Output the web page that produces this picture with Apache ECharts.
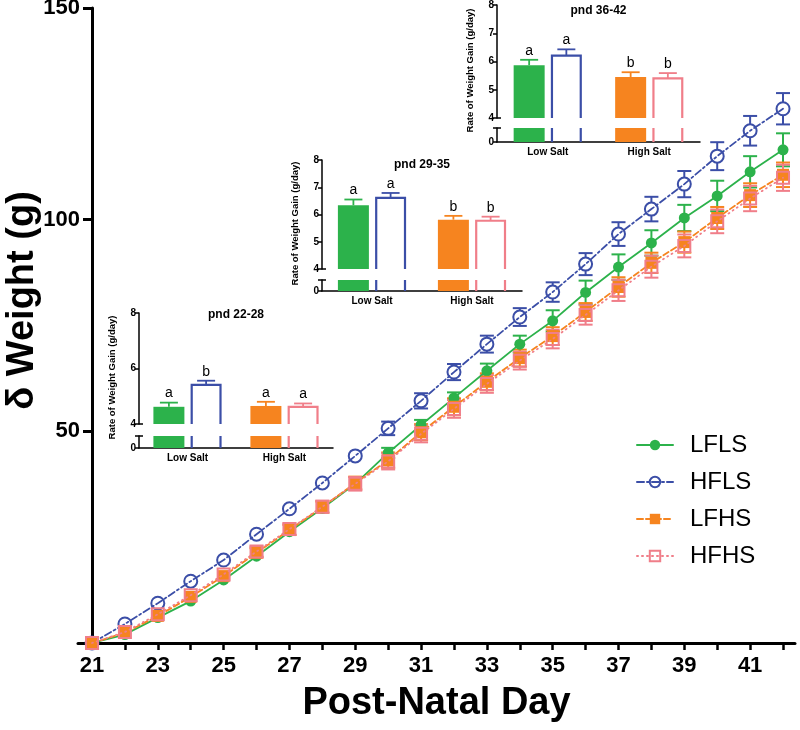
<!DOCTYPE html>
<html><head><meta charset="utf-8">
<script src="https://cdn.jsdelivr.net/npm/echarts@6/dist/echarts.min.js"></script>
<style>html,body{margin:0;padding:0;background:#fff}#c{width:800px;height:730px}</style>
</head><body><div id="c"></div>
<script>
// ---------- data ----------
const days = [21,22,23,24,25,26,27,28,29,30,31,32,33,34,35,36,37,38,39,40,41,42];
const xLabelDays = [21,23,25,27,29,31,33,35,37,39,41];
const yTickValues = [50,100,150];
const seriesNames = ['LFLS','HFLS','LFHS','HFHS'];

const LFLS = [0,2.0,6.0,9.9,14.9,20.5,26.3,31.8,37.6,44.9,51.5,57.9,64.3,70.6,76.1,82.8,88.8,94.5,100.4,105.6,111.3,116.5];
const HFLS = [0,4.5,9.4,14.6,19.6,25.7,31.7,37.8,44.2,50.7,57.2,64.0,70.6,77.0,82.9,89.5,96.6,102.5,108.4,115.0,121.0,126.2];
const LFHS = [0,2.4,6.4,10.9,15.8,21.3,26.7,32.1,37.8,43.2,49.8,55.8,61.7,67.3,72.5,78.2,84.1,89.8,94.7,100.4,105.8,110.6];
const HFHS = [0,2.6,6.8,11.3,16.2,21.6,26.9,32.2,37.6,42.9,49.4,55.3,61.2,66.7,71.8,77.5,83.3,88.9,93.8,99.6,105.0,109.9];

const LFLS_err = [0,0.3,0.4,0.5,0.6,0.7,0.8,0.8,0.9,1.2,1.2,1.3,1.7,2.0,2.5,2.8,3.0,3.0,3.1,3.6,3.7,3.9];
const HFLS_err = [0,0.4,0.5,0.6,0.7,0.8,0.9,1.0,1.2,1.6,1.8,1.9,2.0,2.1,2.3,2.6,2.8,2.9,3.1,3.3,3.5,3.7];
const LFHS_err = [0,0.4,0.6,0.8,1.0,1.1,1.2,1.3,1.5,1.8,1.9,2.0,2.0,2.0,2.1,2.1,2.3,2.4,2.5,2.6,2.8,2.9];
const HFHS_err = [0,0.4,0.6,0.8,1.0,1.2,1.3,1.4,1.6,1.9,2.0,2.1,2.1,2.1,2.2,2.3,2.5,2.6,2.7,2.8,3.0,3.1];

// insets: categories Low Salt / High Salt; LF bars (filled) and HF bars (open)
const insetCategories = ['Low Salt','High Salt'];
const insetTitles = ['pnd 22-28','pnd 29-35','pnd 36-42'];
const insetYTitle = 'Rate of Weight Gain (g/day)';

const pnd22_LF = [4.62, 4.65];   const pnd22_LF_err = [0.15, 0.15]; const pnd22_LF_sig = ['a','a'];
const pnd22_HF = [5.41, 4.62];   const pnd22_HF_err = [0.15, 0.12]; const pnd22_HF_sig = ['b','a'];
const pnd29_LF = [6.34, 5.81];   const pnd29_LF_err = [0.21, 0.14]; const pnd29_LF_sig = ['a','b'];
const pnd29_HF = [6.61, 5.77];   const pnd29_HF_err = [0.18, 0.15]; const pnd29_HF_sig = ['a','b'];
const pnd36_LF = [5.87, 5.45];   const pnd36_LF_err = [0.19, 0.17]; const pnd36_LF_sig = ['a','b'];
const pnd36_HF = [6.21, 5.40];   const pnd36_HF_err = [0.22, 0.19]; const pnd36_HF_sig = ['a','b'];
const insetYTicksA = [4,6,8];
const insetYTicksB = [4,5,6,7,8];

// ---------- styles ----------
const FONT = '"Liberation Sans", Arial, Helvetica, sans-serif';
const C_GREEN = '#2cb24b', C_BLUE = '#3b4ea7', C_ORANGE = '#f6841f', C_PINK = '#f07e89';

const chart = echarts.init(document.getElementById('c'), null, {renderer:'canvas'});

const grids = [], xAxes = [], yAxes = [], series = [], graphics = [];

// main grid
grids.push({left:78, top:8, right:5, bottom:87, outerBoundsMode:'none', containLabel:false});
xAxes.push({
  gridIndex:0, type:'value', min:20.574, max:42.364,
  axisLine:{lineStyle:{color:'#000', width:3}},
  axisTick:{customValues:days, length:7, lineStyle:{color:'#000', width:2.5}},
  axisLabel:{customValues:xLabelDays, fontFamily:FONT, fontWeight:'bold', fontSize:22, color:'#000', margin:12},
  splitLine:{show:false},
  name:'Post-Natal Day', nameLocation:'middle', nameGap:42,
  nameTextStyle:{fontFamily:FONT, fontWeight:'bold', fontSize:38, color:'#000'}
});
yAxes.push({
  gridIndex:0, type:'value', min:0, max:150, offset:-14, position:'left',
  axisLine:{show:true, lineStyle:{color:'#000', width:3}},
  axisTick:{show:true, customValues:yTickValues, length:9, lineStyle:{color:'#000', width:3}},
  axisLabel:{customValues:yTickValues, fontFamily:FONT, fontWeight:'bold', fontSize:22, color:'#000', margin:12},
  splitLine:{show:false},
  name:'δ Weight (g)', nameLocation:'middle', nameGap:50, nameRotate:90, nameMoveOverlap:false,
  nameTextStyle:{fontFamily:FONT, fontWeight:'bold', fontSize:38, color:'#000', padding:[0,0,0,50]}
});

function errSeries(name, vals, errs, color, r) {
  return {
    type:'custom', name:name+' SEM', xAxisIndex:0, yAxisIndex:0, silent:true, z:3,
    data: days.map((d,i)=>[d, vals[i], errs[i]]),
    encode:{x:0, y:1},
    renderItem(params, api){
      const x=api.value(0), v=api.value(1), e=api.value(2);
      const c=api.coord([x,v]), hi=api.coord([x,v+e]), lo=api.coord([x,v-e]);
      const w=7, st={stroke:color, lineWidth:2};
      const ch=[];
      if (c[1]-hi[1] > r-1) {
        ch.push({type:'line', shape:{x1:c[0],y1:hi[1],x2:c[0],y2:c[1]-r}, style:st});
        ch.push({type:'line', shape:{x1:c[0]-w,y1:hi[1],x2:c[0]+w,y2:hi[1]}, style:st});
        ch.push({type:'line', shape:{x1:c[0],y1:c[1]+r,x2:c[0],y2:lo[1]}, style:st});
        ch.push({type:'line', shape:{x1:c[0]-w,y1:lo[1],x2:c[0]+w,y2:lo[1]}, style:st});
      }
      return {type:'group', children:ch};
    }
  };
}
function lineSeries(name, vals, color, lineType, symbol, size, filled, z) {
  return {
    type:'line', name, xAxisIndex:0, yAxisIndex:0, z,
    data: days.map((d,i)=>[d, vals[i]]),
    symbol, symbolSize:size, showSymbol:true,
    lineStyle:{color, width:1.8, type:lineType, cap:'round'},
    itemStyle:{color: filled ? color : 'rgba(255,255,255,0)', borderColor:color, borderWidth: filled ? 0 : 2},
    emphasis:{disabled:true}
  };
}
series.push(errSeries('LFLS', LFLS, LFLS_err, C_GREEN, 5));
series.push(errSeries('HFLS', HFLS, HFLS_err, C_BLUE, 6.5));
series.push(errSeries('LFHS', LFHS, LFHS_err, C_ORANGE, 5.5));
series.push(errSeries('HFHS', HFHS, HFHS_err, C_PINK, 6));
series.push(lineSeries('LFLS', LFLS, C_GREEN, 'solid', 'circle', 11, true, 4));
series.push(lineSeries('HFLS', HFLS, C_BLUE, [7,3,2,3], 'circle', 13, false, 5));
series.push(lineSeries('LFHS', LFHS, C_ORANGE, [6,3], 'rect', 12, true, 6));
series.push(lineSeries('HFHS', HFHS, C_PINK, [1,4], 'rect', 12, false, 7));

// ---------- insets ----------
const insetDefs = [
  {left:139, top8:313, y4:424, cap:436, y0:448, width:194, titleY:315, ticks:insetYTicksA,
   LF:pnd22_LF, LFe:pnd22_LF_err, LFs:pnd22_LF_sig, HF:pnd22_HF, HFe:pnd22_HF_err, HFs:pnd22_HF_sig},
  {left:322, top8:160, y4:269, cap:280, y0:291, width:200, titleY:165, ticks:insetYTicksB,
   LF:pnd29_LF, LFe:pnd29_LF_err, LFs:pnd29_LF_sig, HF:pnd29_HF, HFe:pnd29_HF_err, HFs:pnd29_HF_sig},
  {left:497, top8:5, y4:118, cap:128, y0:142, width:203, titleY:11, ticks:insetYTicksB,
   LF:pnd36_LF, LFe:pnd36_LF_err, LFs:pnd36_LF_sig, HF:pnd36_HF, HFe:pnd36_HF_err, HFs:pnd36_HF_sig}
];
const LF_colors = [C_GREEN, C_ORANGE];
const HF_colors = [C_BLUE, C_PINK];
const BW = 31, OFF = 18.6;

function insetTopSeries(xi, yi, vals, errs, sigs, colors, filled, offset) {
  return {
    type:'custom', xAxisIndex:xi, yAxisIndex:yi, silent:true, z:10,
    data: vals.map((v,i)=>[i, v, errs[i]]),
    encode:{x:0, y:1},
    renderItem(params, api){
      const i=params.dataIndex, x=api.value(0), v=api.value(1), e=api.value(2);
      const base=api.coord([x,4]), top=api.coord([x,v]), hi=api.coord([x,v+e]);
      const cx=top[0]+offset, col=colors[i], ch=[];
      if (filled) ch.push({type:'rect', shape:{x:cx-BW/2, y:top[1], width:BW, height:base[1]-top[1]}, style:{fill:col}});
      else ch.push({type:'polyline', shape:{points:[[cx-BW/2+1.1,base[1]],[cx-BW/2+1.1,top[1]],[cx+BW/2-1.1,top[1]],[cx+BW/2-1.1,base[1]]]}, style:{stroke:col, lineWidth:2.2, fill:null}});
      ch.push({type:'line', shape:{x1:cx,y1:top[1],x2:cx,y2:hi[1]}, style:{stroke:col, lineWidth:1.8}});
      ch.push({type:'line', shape:{x1:cx-9,y1:hi[1],x2:cx+9,y2:hi[1]}, style:{stroke:col, lineWidth:1.8}});
      ch.push({type:'text', style:{text:sigs[i], x:cx, y:hi[1]-2, align:'center', verticalAlign:'bottom', fontFamily:FONT, fontSize:14, fill:'#000'}});
      return {type:'group', children:ch};
    }
  };
}
function insetBotSeries(xi, yi, vals, colors, filled, offset) {
  return {
    type:'custom', xAxisIndex:xi, yAxisIndex:yi, silent:true, z:10,
    data: vals.map((v,i)=>[i, v]),
    encode:{x:0, y:1},
    renderItem(params, api){
      const i=params.dataIndex, x=api.value(0);
      const b=api.coord([x,0]), cs=params.coordSys, top=cs.y;
      const cx=b[0]+offset, col=colors[i];
      if (filled) return {type:'rect', shape:{x:cx-BW/2, y:top, width:BW, height:b[1]-top}, style:{fill:col}};
      return {type:'group', children:[
        {type:'line', shape:{x1:cx-BW/2+1.1,y1:top,x2:cx-BW/2+1.1,y2:b[1]}, style:{stroke:col, lineWidth:2.2}},
        {type:'line', shape:{x1:cx+BW/2-1.1,y1:top,x2:cx+BW/2-1.1,y2:b[1]}, style:{stroke:col, lineWidth:2.2}}
      ]};
    }
  };
}

insetDefs.forEach((d, k) => {
  const gTop = grids.length;
  grids.push({left:d.left, top:d.top8, width:d.width, height:d.y4-d.top8, outerBoundsMode:'none', containLabel:false});
  const gBot = grids.length;
  grids.push({left:d.left, top:d.cap, width:d.width, height:d.y0-d.cap, outerBoundsMode:'none', containLabel:false});
  const xTop = xAxes.length;
  xAxes.push({gridIndex:gTop, type:'category', data:insetCategories, show:false});
  const xBot = xAxes.length;
  xAxes.push({gridIndex:gBot, type:'category', data:insetCategories, position:'bottom',
    axisLine:{lineStyle:{color:'#000', width:1.5}},
    axisTick:{alignWithLabel:true, length:4, lineStyle:{color:'#000', width:1.5}},
    axisLabel:{fontFamily:FONT, fontWeight:'bold', fontSize:10, color:'#000', margin:5}});
  const yTop = yAxes.length;
  yAxes.push({gridIndex:gTop, type:'value', min:4, max:8, position:'left',
    axisLine:{show:true, lineStyle:{color:'#000', width:1.5}},
    axisTick:{show:true, customValues:d.ticks, length:4, lineStyle:{color:'#000', width:1.5}},
    axisLabel:{customValues:d.ticks, fontFamily:FONT, fontWeight:'bold', fontSize:10, color:'#000', margin:3},
    splitLine:{show:false},
    name:insetYTitle, nameLocation:'middle', nameRotate:90, nameGap:22,
    nameTextStyle:{fontFamily:FONT, fontWeight:'bold', fontSize:9.5, color:'#000', padding:[0,18,0,0]}});
  yAxes.push({gridIndex:gTop, type:'value', min:4, max:8, position:'left', offset:0,
    axisLine:{show:false}, axisLabel:{show:false}, splitLine:{show:false},
    axisTick:{show:true, inside:true, customValues:[4], length:4, lineStyle:{color:'#000', width:1.5}}});
  const yBot = yAxes.length;
  yAxes.push({gridIndex:gBot, type:'value', min:0, max:1, position:'left',
    axisLine:{show:true, lineStyle:{color:'#000', width:1.5}},
    axisTick:{show:true, customValues:[0,1], length:4, lineStyle:{color:'#000', width:1.5}},
    axisLabel:{customValues:[0], fontFamily:FONT, fontWeight:'bold', fontSize:10, color:'#000', margin:3},
    splitLine:{show:false}});
  yAxes.push({gridIndex:gBot, type:'value', min:0, max:1, position:'left', offset:0,
    axisLine:{show:false}, axisLabel:{show:false}, splitLine:{show:false},
    axisTick:{show:true, inside:true, customValues:[1], length:4, lineStyle:{color:'#000', width:1.5}}});

  series.push(insetTopSeries(xTop, yTop, d.LF, d.LFe, d.LFs, LF_colors, true, -OFF));
  series.push(insetTopSeries(xTop, yTop, d.HF, d.HFe, d.HFs, HF_colors, false, OFF));
  series.push(insetBotSeries(xBot, yBot, d.LF, LF_colors, true, -OFF));
  series.push(insetBotSeries(xBot, yBot, d.HF, HF_colors, false, OFF));

  graphics.push({type:'text', silent:true, style:{
    text:insetTitles[k], x:d.left + d.width/2, y:d.titleY, align:'center', verticalAlign:'middle',
    fontFamily:FONT, fontWeight:'bold', fontSize:12, fill:'#000'}});
});

chart.setOption({
  animation:false,
  backgroundColor:'#fff',
  grid:grids, xAxis:xAxes, yAxis:yAxes, series,
  graphic: graphics,
  legend:{
    data:seriesNames, orient:'vertical', left:631, top:428,
    itemWidth:36, itemHeight:13, itemGap:13,
    textStyle:{fontFamily:FONT, fontSize:24, color:'#000', padding:[0,0,0,12]},
    selectedMode:false
  }
});
</script></body></html>
